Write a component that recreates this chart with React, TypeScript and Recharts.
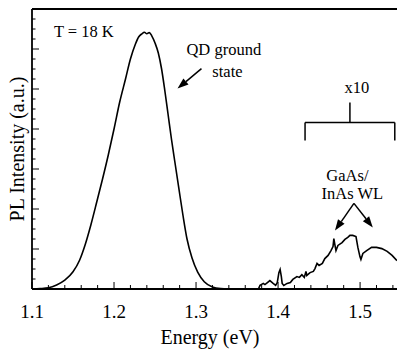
import { LineChart, Line, XAxis, YAxis, ReferenceLine, ReferenceDot, Label } from 'recharts'

const FONT = 'Liberation Serif, DejaVu Serif, serif'

// QD ground state peak (eV, a.u.)
const peakEnergy = [
  1.1, 1.11, 1.12, 1.13, 1.14, 1.15, 1.158, 1.165, 1.172, 1.179, 1.186, 1.193, 1.2, 1.207,
  1.214, 1.22, 1.226, 1.23, 1.234, 1.237, 1.24, 1.243, 1.246, 1.25, 1.254, 1.258, 1.262,
  1.266, 1.27, 1.274, 1.279, 1.284, 1.289, 1.295, 1.302, 1.31, 1.32, 1.33, 1.34,
]
const peakIntensity = [
  0, 0.01, 0.03, 0.1, 0.22, 0.43, 0.72, 1.12, 1.62, 2.18, 2.75, 3.35, 4.0, 4.68,
  5.25, 5.75, 6.12, 6.3, 6.38, 6.42, 6.38, 6.41, 6.33, 6.15, 5.9, 5.5, 4.95,
  4.35, 3.75, 3.2, 2.52, 1.85, 1.25, 0.78, 0.42, 0.18, 0.05, 0.01, 0,
]

// GaAs / InAs wetting layer region (x10)
const wlEnergy = [
  1.376, 1.378, 1.382, 1.384, 1.387, 1.39, 1.394, 1.397, 1.399, 1.401, 1.4025, 1.404,
  1.405, 1.407, 1.411, 1.415, 1.418, 1.423, 1.426, 1.429, 1.432, 1.434, 1.435, 1.439,
  1.443, 1.445, 1.4475, 1.45, 1.454, 1.457, 1.461, 1.4645, 1.467, 1.468, 1.4694, 1.4706,
  1.473, 1.478, 1.4815, 1.485, 1.4876, 1.491, 1.495, 1.4973, 1.4998, 1.501, 1.5034,
  1.508, 1.514, 1.52, 1.5265, 1.533, 1.539, 1.545,
]
const wlIntensity = [
  0, 0.09, 0.14, 0.11, 0.16, 0.21, 0.14, 0.09, 0.16, 0.41, 0.49, 0.31,
  0.14, 0.09, 0.14, 0.16, 0.24, 0.31, 0.29, 0.36, 0.29, 0.44, 0.34, 0.41,
  0.44, 0.51, 0.64, 0.59, 0.64, 0.76, 0.84, 0.96, 1.06, 1.26, 1.09, 0.96,
  1.09, 1.16, 1.24, 1.29, 1.34, 1.34, 1.31, 1.04, 0.81, 0.74, 0.89,
  0.96, 1.04, 1.04, 1.01, 0.94, 0.84, 0.71,
]

const xMajorTicks = [1.1, 1.2, 1.3, 1.4, 1.5]
const xTicks = [
  1.1, 1.12, 1.14, 1.16, 1.18, 1.2, 1.22, 1.24, 1.26, 1.28, 1.3, 1.32, 1.34, 1.36, 1.38,
  1.4, 1.42, 1.44, 1.46, 1.48, 1.5, 1.52, 1.54,
]
const yTicks = Array.from({ length: 29 }, (_, i) => i * 0.25)

const peakData = peakEnergy.map((e, i) => ({ e, v: peakIntensity[i] }))
const wlData = wlEnergy.map((e, i) => ({ e, v: wlIntensity[i] }))

function XTick({ x, y, payload }: any) {
  const v = payload.value
  const major = xMajorTicks.some((m) => Math.abs(m - v) < 1e-6)
  return (
    <g>
      <line x1={x} x2={x} y1={y} y2={y - (major ? 7 : 4)} stroke="#000" strokeWidth={1} />
      {major && (
        <text x={x} y={y + 29} textAnchor="middle" style={{ fontFamily: FONT, fontSize: 19 }} fill="#000">
          {v.toFixed(1)}
        </text>
      )}
    </g>
  )
}

function YTick({ x, y, payload }: any) {
  const major = Math.abs(payload.value - Math.round(payload.value)) < 1e-6
  return <line x1={x} x2={x + (major ? 7 : 3.5)} y1={y} y2={y} stroke="#000" strokeWidth={1} />
}

function textShape(txt: string, anchor: 'start' | 'middle' = 'start') {
  return (p: any) => (
    <text x={p.cx} y={p.cy} textAnchor={anchor} style={{ fontFamily: FONT, fontSize: 16.5 }} fill="#000">
      {txt}
    </text>
  )
}

function Arrow(p: any) {
  const { x1, y1, x2, y2 } = p
  const dx = x2 - x1
  const dy = y2 - y1
  const len = Math.sqrt(dx * dx + dy * dy)
  const ux = dx / len
  const uy = dy / len
  const hl = 11
  const hw = 4
  const bx = x2 - ux * hl
  const by = y2 - uy * hl
  return (
    <g>
      <line x1={x1} y1={y1} x2={bx} y2={by} stroke="#000" strokeWidth={1.5} />
      <polygon
        points={`${x2},${y2} ${bx - uy * hw},${by + ux * hw} ${bx + uy * hw},${by - ux * hw}`}
        fill="#000"
      />
    </g>
  )
}

const seg = (a: [number, number], b: [number, number]) => [
  { x: a[0], y: a[1] },
  { x: b[0], y: b[1] },
]

export default function App() {
  return (
    <div style={{ position: 'absolute', left: 0, top: 0, width: 397, height: 352, background: '#fff' }}>
      <LineChart width={397} height={352} margin={{ top: 9, right: 0, bottom: 0, left: 0 }}>
        <XAxis
          dataKey="e"
          type="number"
          domain={[1.1, 1.545]}
          allowDataOverflow
          ticks={xTicks}
          interval={0}
          tick={<XTick />}
          tickLine={false}
          tickSize={0}
          tickMargin={0}
          axisLine={{ stroke: '#000', strokeWidth: 1.8 }}
          height={63}
        >
          <Label
            content={() => (
              <text x={210} y={344} textAnchor="middle" style={{ fontFamily: FONT, fontSize: 20 }} fill="#000">
                Energy (eV)
              </text>
            )}
          />
        </XAxis>
        <YAxis
          type="number"
          domain={[0, 7]}
          allowDataOverflow
          ticks={yTicks}
          interval={0}
          tick={<YTick />}
          tickLine={false}
          tickSize={0}
          tickMargin={0}
          axisLine={{ stroke: '#000', strokeWidth: 1.8 }}
          width={32}
        >
          <Label
            content={(props: any) => {
              const vb = props.viewBox
              const cx = 17
              const cy = vb.y + vb.height / 2
              return (
                <text
                  x={cx}
                  y={cy}
                  transform={`rotate(-90 ${cx} ${cy})`}
                  textAnchor="middle"
                  dominantBaseline="central"
                  style={{ fontFamily: FONT, fontSize: 20 }}
                  fill="#000"
                >
                  PL Intensity (a.u.)
                </text>
              )
            }}
          />
        </YAxis>
        <ReferenceLine y={7} stroke="#000" strokeWidth={1.8} />

        <Line data={peakData} dataKey="v" type="monotone" stroke="#000" strokeWidth={1.6} dot={false} isAnimationActive={false} />
        <Line data={wlData} dataKey="v" type="linear" stroke="#000" strokeWidth={1.6} dot={false} isAnimationActive={false} />

        <ReferenceDot x={1.1267} y={6.29} shape={textShape('T = 18 K')} />
        <ReferenceDot x={1.2883} y={5.84} shape={textShape('QD ground')} />
        <ReferenceDot x={1.3199} y={5.29} shape={textShape('state')} />
        <ReferenceLine segment={seg([1.3066, 5.51], [1.2774, 5.01])} shape={<Arrow />} />

        <ReferenceDot x={1.4961} y={4.91} shape={textShape('x10', 'middle')} />
        <ReferenceLine segment={seg([1.4876, 4.66], [1.4876, 4.16])} stroke="#000" strokeWidth={1.5} />
        <ReferenceLine segment={seg([1.4329, 4.16], [1.5423, 4.16])} stroke="#000" strokeWidth={1.5} />
        <ReferenceLine segment={seg([1.4329, 4.16], [1.4329, 3.71])} stroke="#000" strokeWidth={1.5} />
        <ReferenceLine segment={seg([1.5423, 4.16], [1.5423, 3.71])} stroke="#000" strokeWidth={1.5} />

        <ReferenceDot x={1.4846} y={2.69} shape={textShape('GaAs/', 'middle')} />
        <ReferenceDot x={1.4906} y={2.26} shape={textShape('InAs WL', 'middle')} />
        <ReferenceLine segment={seg([1.4925, 2.14], [1.4694, 1.46])} shape={<Arrow />} />
        <ReferenceLine segment={seg([1.4925, 2.14], [1.5155, 1.54])} shape={<Arrow />} />
      </LineChart>
    </div>
  )
}
